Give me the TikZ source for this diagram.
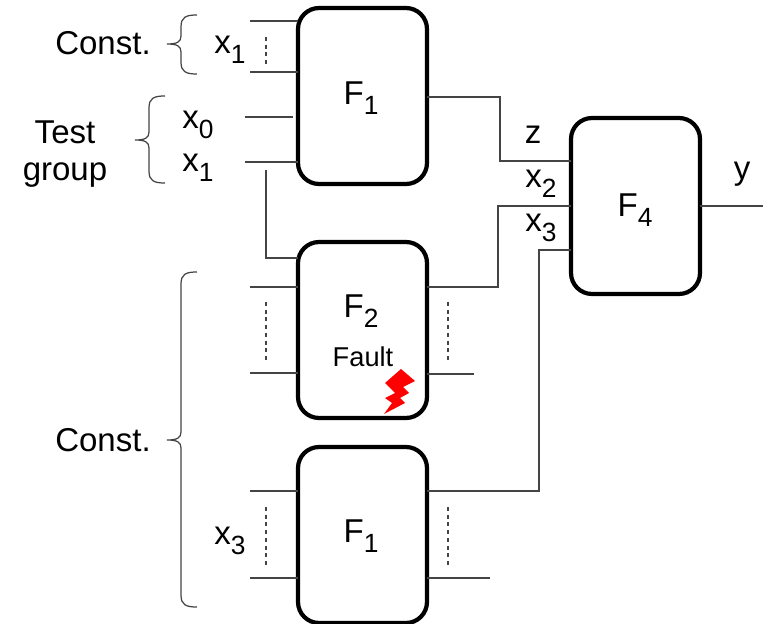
\documentclass[tikz,border=0pt]{standalone}
\usepackage{fontspec}
\setmainfont{Liberation Sans}
\usetikzlibrary{positioning,calc}
\definecolor{boltred}{HTML}{FF0000}
\definecolor{wiregray}{HTML}{444444}
\newcommand{\sublab}[2]{#1\raisebox{-0.3em}{\fontsize{15}{15}\selectfont #2}}
\newcommand{\bracecurve}[4]{\draw[bracket] ({#1+30},#2) .. controls ({#1+19},#2) and ({#1+14},{#2+2}) .. ({#1+14},{#2+12}) -- ({#1+14},{#3-8}) .. controls ({#1+14},{#3-2}) and ({#1+10},#3) .. (#1,#3) .. controls ({#1+10},#3) and ({#1+14},{#3+2}) .. ({#1+14},{#3+8}) -- ({#1+14},{#4-12}) .. controls ({#1+14},{#4-2}) and ({#1+19},#4) .. ({#1+30},#4);}
\tikzset{
  funcbox/.style={draw=black, line width=2.4pt, rounded corners=0.42cm, minimum width=2.58cm, minimum height=3.52cm, outer sep=0pt},
  wire/.style={draw=wiregray, line width=0.8pt},
  skipline/.style={draw=wiregray, line width=0.7pt, dash pattern=on 2.2pt off 2.2pt},
  bracket/.style={draw=wiregray, line width=0.7pt},
  lab/.style={font=\fontsize{18.8}{22}\selectfont, inner sep=0pt, align=center},
  smalllab/.style={font=\fontsize{15.5}{18}\selectfont, inner sep=0pt}
}
\begin{document}
\begin{tikzpicture}[x=0.02cm, y=-0.02cm]
    \useasboundingbox (0,0) rectangle (763,624);
    \node[funcbox] (funca) at (362.5,96) {};
    \node[funcbox] (funcb) at (362.5,330) {};
    \node[funcbox] (funcc) at (362.5,535) {};
    \node[funcbox] (funcd) at (635.5,206) {};
    \node[lab] (funcalab) at (361,98) {\sublab{F}{1}};
    \node[lab] (funcblab) at (361,311) {\sublab{F}{2}};
    \node[smalllab] (faultlab) at (363,357) {Fault};
    \node[lab] (funcclab) at (361,536) {\sublab{F}{1}};
    \node[lab] (funcdlab) at (635,210) {\sublab{F}{4}};
    \node[lab] (consta) at (103,43) {Const.};
    \node[lab] (testlab) at (65,154) {Test\\[-0.03cm]group};
    \node[lab] (constb) at (103,440) {Const.};
    \node[lab] (xa) at (230,50) {\sublab{x}{1}};
    \node[lab] (xb) at (198,125) {\sublab{x}{0}};
    \node[lab] (xc) at (198,168) {\sublab{x}{1}};
    \node[lab] (xd) at (230,541) {\sublab{x}{3}};
    \node[lab] (zlab) at (533,135) {z};
    \node[lab] (xe) at (541,184) {\sublab{x}{2}};
    \node[lab] (xf) at (541,228) {\sublab{x}{3}};
    \node[lab] (ylab) at (742,174) {y};
    % inputs of the top block
    \coordinate (ina) at (250,21);
    \coordinate (inb) at (250,72);
    \coordinate (inc) at (245,117);
    \coordinate (incend) at (293,117);
    \coordinate (ind) at (245,162);
    \draw[wire] (ina) -- (ina -| funca.west);
    \draw[wire] (inb) -- (inb -| funca.west);
    \draw[wire] (inc) -- (incend);
    \draw[wire] (ind) -- (ind -| funca.west);
    \coordinate (tapa) at (266,170);
    \coordinate (tapb) at (266,258);
    \draw[wire] (tapa) -- (tapb) -- (tapb -| funcb.west);
    % inputs of the other two
    \coordinate (ine) at (250,287);
    \coordinate (inf) at (250,373);
    \coordinate (ing) at (250,491);
    \coordinate (inh) at (250,578);
    \draw[wire] (ine) -- (ine -| funcb.west);
    \draw[wire] (inf) -- (inf -| funcb.west);
    \draw[wire] (ing) -- (ing -| funcc.west);
    \draw[wire] (inh) -- (inh -| funcc.west);
    % outputs into the last block
    \coordinate (bendaa) at (500,97);
    \coordinate (bendab) at (500,161);
    \draw[wire] (bendaa -| funca.east) -- (bendaa) -- (bendab) -- (bendab -| funcd.west);
    \coordinate (bendba) at (498,287);
    \coordinate (bendbb) at (498,206);
    \draw[wire] (bendba -| funcb.east) -- (bendba) -- (bendbb) -- (bendbb -| funcd.west);
    \coordinate (bendca) at (539,491);
    \coordinate (bendcb) at (539,250);
    \draw[wire] (bendca -| funcc.east) -- (bendca) -- (bendcb) -- (bendcb -| funcd.west);
    \coordinate (outy) at (763,206);
    \draw[wire] (funcd.east) -- (outy);
    \coordinate (outb) at (474,374);
    \coordinate (outc) at (490,578);
    \draw[wire] (outb -| funcb.east) -- (outb);
    \draw[wire] (outc -| funcc.east) -- (outc);
    % skipped lines
    \draw[skipline] (266,37) -- (266,67);
    \draw[skipline] (266,302) -- (266,360);
    \draw[skipline] (448,302) -- (448,360);
    \draw[skipline] (266,507) -- (266,565);
    \draw[skipline] (448,507) -- (448,565);
    % braces
    \bracecurve{167}{15}{44}{74}
    \bracecurve{135}{96}{140}{183}
    \bracecurve{167}{272}{440}{607}
    % fault bolt
    \fill[boltred] (401,369) -- (415,381) -- (403,387) -- (409,393) -- (400,398) -- (405,403) -- (384,414) -- (392,403) -- (385,398) -- (395,393) -- (385,383) -- cycle;
  \end{tikzpicture}
\end{document}
